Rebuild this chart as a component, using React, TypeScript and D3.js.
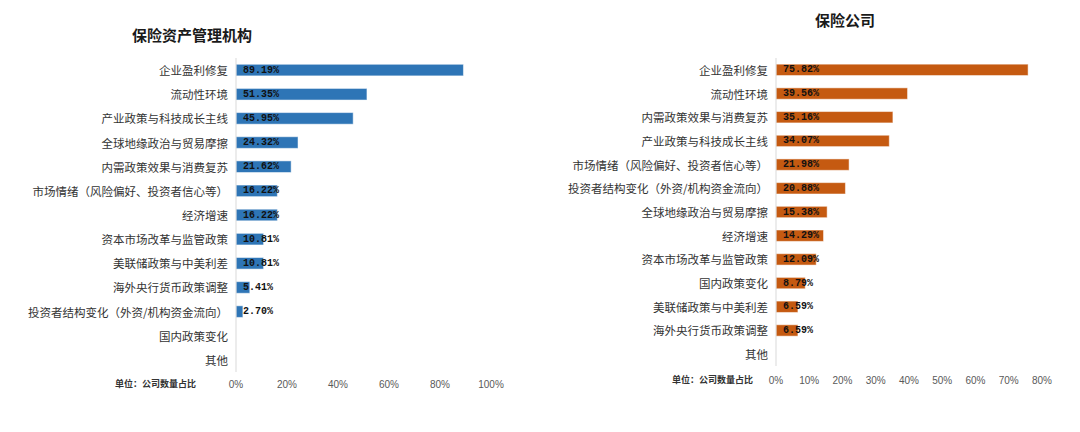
import React, { useEffect, useRef } from 'react'
import * as d3 from 'd3'

// 保险资产管理机构
const amcCategories = [
  '企业盈利修复',
  '流动性环境',
  '产业政策与科技成长主线',
  '全球地缘政治与贸易摩擦',
  '内需政策效果与消费复苏',
  '市场情绪（风险偏好、投资者信心等）',
  '经济增速',
  '资本市场改革与监管政策',
  '美联储政策与中美利差',
  '海外央行货币政策调整',
  '投资者结构变化（外资/机构资金流向）',
  '国内政策变化',
  '其他',
]
const amcValues = [89.19, 51.35, 45.95, 24.32, 21.62, 16.22, 16.22, 10.81, 10.81, 5.41, 2.7, 0, 0]
const amcTicks = [0, 20, 40, 60, 80, 100]

// 保险公司
const insCategories = [
  '企业盈利修复',
  '流动性环境',
  '内需政策效果与消费复苏',
  '产业政策与科技成长主线',
  '市场情绪（风险偏好、投资者信心等）',
  '投资者结构变化（外资/机构资金流向）',
  '全球地缘政治与贸易摩擦',
  '经济增速',
  '资本市场改革与监管政策',
  '国内政策变化',
  '美联储政策与中美利差',
  '海外央行货币政策调整',
  '其他',
]
const insValues = [75.82, 39.56, 35.16, 34.07, 21.98, 20.88, 15.38, 14.29, 12.09, 8.79, 6.59, 6.59, 0]
const insTicks = [0, 10, 20, 30, 40, 50, 60, 70, 80]

const CJK = '"Noto Sans CJK SC", "Noto Sans", sans-serif'

interface PanelProps {
  title: string
  titleX: number
  titleY: number
  categories: string[]
  values: number[]
  ticks: number[]
  color: string
  x0: number
  x1: number
  y0: number
  y1: number
  tickY: number
  unitX: number
}

function drawPanel(g: d3.Selection<SVGGElement, unknown, null, undefined>, p: PanelProps) {
  const x = d3.scaleLinear().domain([0, d3.max(p.ticks)!]).range([p.x0, p.x1])
  const y = d3.scaleBand<string>().domain(p.categories).range([p.y0, p.y1]).paddingInner(0.52).paddingOuter(0.26)

  // title
  g.append('text')
    .attr('x', p.titleX)
    .attr('y', p.titleY)
    .attr('text-anchor', 'middle')
    .attr('dominant-baseline', 'middle')
    .style('font', `bold 15px ${CJK}`)
    .attr('fill', '#1a1a1a')
    .text(p.title)

  // bars
  const rows = p.categories.map((c, i) => ({ c, v: p.values[i] }))
  g.selectAll('rect.bar')
    .data(rows.filter(d => d.v > 0))
    .enter()
    .append('rect')
    .attr('class', 'bar')
    .attr('x', x(0))
    .attr('y', d => y(d.c)!)
    .attr('width', d => x(d.v) - x(0))
    .attr('height', y.bandwidth())
    .attr('fill', p.color)
    .attr('stroke', '#ffffff')
    .attr('stroke-opacity', 0.5)
    .attr('stroke-width', 1)

  // value labels
  g.selectAll('text.val')
    .data(rows.filter(d => d.v > 0))
    .enter()
    .append('text')
    .attr('class', 'val')
    .attr('x', x(0) + 7)
    .attr('y', d => y(d.c)! + y.bandwidth() / 2)
    .attr('dominant-baseline', 'central')
    .style('font', 'bold 10px "Liberation Mono", monospace')
    .attr('fill', '#111')
    .text(d => d.v.toFixed(2) + '%')

  // category labels
  g.selectAll('text.cat')
    .data(p.categories)
    .enter()
    .append('text')
    .attr('class', 'cat')
    .attr('x', x(0) - 8)
    .attr('y', d => y(d)! + y.bandwidth() / 2)
    .attr('text-anchor', 'end')
    .attr('dominant-baseline', 'central')
    .style('font', `11.5px ${CJK}`)
    .attr('fill', '#333')
    .text(d => d)

  // axis line
  g.append('line')
    .attr('x1', x(0))
    .attr('x2', x(0))
    .attr('y1', p.y0)
    .attr('y2', p.y1)
    .attr('stroke', '#d9d9d9')
    .attr('stroke-width', 1)

  // tick labels
  g.selectAll('text.tick')
    .data(p.ticks)
    .enter()
    .append('text')
    .attr('class', 'tick')
    .attr('x', d => x(d))
    .attr('y', p.tickY)
    .attr('text-anchor', 'middle')
    .attr('dominant-baseline', 'middle')
    .style('font', '10px "Liberation Sans", Arial, sans-serif')
    .attr('fill', '#595959')
    .text(d => d + '%')

  g.append('text')
    .attr('x', p.unitX)
    .attr('y', p.tickY)
    .attr('dominant-baseline', 'middle')
    .style('font', `bold 9px ${CJK}`)
    .attr('fill', '#333')
    .text('单位：公司数量占比')
}

export default function App() {
  const ref = useRef<SVGSVGElement>(null)

  useEffect(() => {
    const svg = d3.select(ref.current!)
    svg.selectAll('*').remove()

    drawPanel(svg.append('g'), {
      title: '保险资产管理机构',
      titleX: 192,
      titleY: 37,
      categories: amcCategories,
      values: amcValues,
      ticks: amcTicks,
      color: '#2E75B6',
      x0: 236,
      x1: 491,
      y0: 58,
      y1: 372,
      tickY: 385,
      unitX: 115,
    })

    drawPanel(svg.append('g'), {
      title: '保险公司',
      titleX: 845,
      titleY: 22,
      categories: insCategories,
      values: insValues,
      ticks: insTicks,
      color: '#C55A11',
      x0: 776,
      x1: 1042,
      y0: 58,
      y1: 366,
      tickY: 381,
      unitX: 672,
    })
  }, [])

  return (
    <svg
      ref={ref}
      width={1080}
      height={432}
      style={{ position: 'absolute', left: 0, top: 0, background: '#fff' }}
    />
  )
}
